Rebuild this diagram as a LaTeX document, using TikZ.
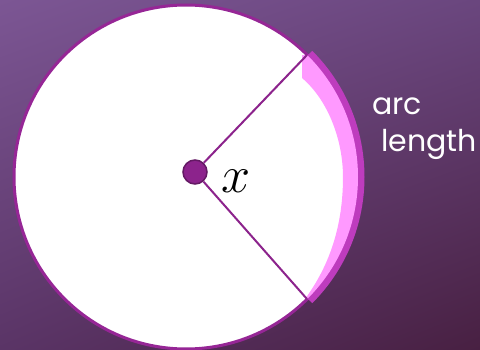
\documentclass[tikz,border=0pt]{standalone}
\usepackage{fontspec}
\usetikzlibrary{shadings}
\newfontfamily\labelfont{Poppins}
\definecolor{bgtl}{RGB}{124,86,148}
\definecolor{bgtr}{RGB}{106,70,126}
\definecolor{bgbl}{RGB}{90,52,102}
\definecolor{bgbr}{RGB}{72,32,66}
\definecolor{rim}{RGB}{150,38,150}
\definecolor{spoke}{RGB}{140,35,140}
\definecolor{dotrim}{RGB}{100,25,100}
\definecolor{arcpink}{RGB}{255,153,255}
\definecolor{arcdark}{RGB}{190,60,190}

\begin{document}
\begin{tikzpicture}[x=1pt, y=-1pt, every node/.style={inner sep=0pt}]
	\useasboundingbox (0,0) rectangle (480,350);
	\shade[upper left=bgtl, upper right=bgtr, lower left=bgbl, lower right=bgbr] (0,0) rectangle (480,350);
	% the circle
	\draw[rim, line width=3pt, fill=white] (186,177) circle (172);
	% highlighted arc
	\draw[arcdark, line width=8pt] (186,177) ++(-45:174.5) arc[start angle=-45, end angle=45, radius=174.5];
	\fill[arcpink] (186,177) ++(-45:172) arc[start angle=-45, end angle=45, radius=172]
		-- (305,299) .. controls (330,265) and (343,225) .. (343,177)
		.. controls (343,140) and (328,100) .. (302,78) -- (302,55) -- cycle;
	% centre and radii
	\node[circle, fill=spoke, draw=dotrim, line width=1.5pt, minimum size=24pt] (ctr) at (195,172) {};
	\coordinate (upper) at (307,55);
	\coordinate (lower) at (307,299);
	\draw[spoke, line width=2pt] (ctr) -- (upper);
	\draw[spoke, line width=2pt] (ctr) -- (lower);
	\node[font=\Huge, scale=2.1] (xlab) at (236,181) {$x$};
	\node[anchor=base west, text=white, font=\labelfont\fontsize{30}{37}\selectfont] (arcword) at (372,115) {arc};
	\node[anchor=base west, text=white, font=\labelfont\fontsize{30}{37}\selectfont] (lengthword) at (381,152) {length};
\end{tikzpicture}
\end{document}
